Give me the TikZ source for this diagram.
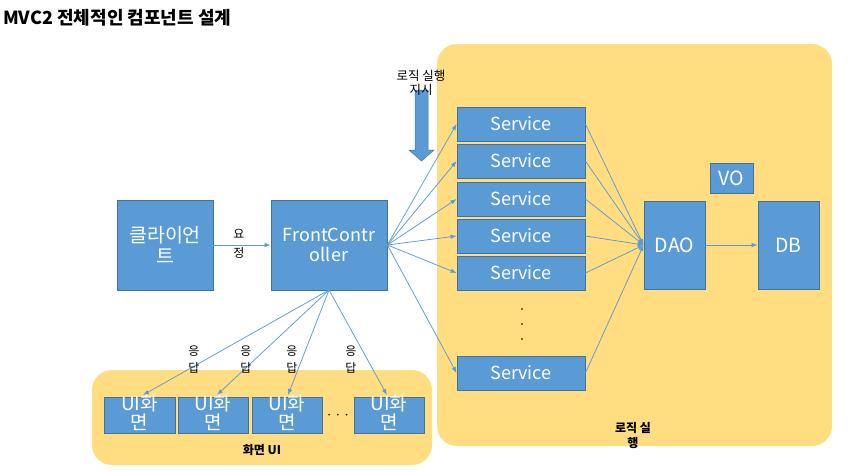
\documentclass[tikz,border=0pt]{standalone}
\usepackage{fontspec}
\setmainfont{Noto Sans CJK KR}
\usetikzlibrary{arrows.meta}
\definecolor{boxblue}{HTML}{5B9BD5}
\definecolor{boxedge}{HTML}{41719C}
\definecolor{panel}{HTML}{FFDD80}
\begin{document}
\begin{tikzpicture}[x=1pt,y=-1pt,
  box/.style={draw=boxedge, fill=boxblue, line width=0.8pt, inner sep=0pt},
  boxtext/.style={text=white, font=\fontsize{18}{20}\selectfont, align=center, inner sep=0pt},
  bigtext/.style={boxtext, font=\fontsize{19.5}{21}\selectfont},
  link/.style={draw=boxblue, line width=0.75pt, -{Latex[length=6pt,width=4.5pt]}},
  lbl/.style={font=\fontsize{12}{17}\selectfont, align=center, inner sep=0pt},
  blbl/.style={font=\fontsize{12}{15}\selectfont\bfseries, align=center, inner sep=0pt},
  panelbox/.style={fill=panel, rounded corners=20pt}]
\useasboundingbox (0,0) rectangle (853,471);
% panels
\fill[panelbox] (437,44) rectangle (832,446);
\fill[panelbox] (92,370) rectangle (432,465);
% title
\node[anchor=west, font=\fontsize{18}{20}\selectfont\bfseries, inner sep=0pt] (title) at (3,18) {MVC2 전체적인 컴포넌트 설계};
% client and front controller
\node[box, minimum width=96pt, minimum height=90pt] (client) at (165,245) {};
\node[bigtext] (clientt) at (client.center) {클라이언\\트};
\node[box, minimum width=116pt, minimum height=90pt] (fc) at (329,245) {};
\node[boxtext] (fct) at (fc.center) {FrontContr\\oller};
% services
\foreach \i/\y in {1/124,2/161,3/199,4/236,5/273,6/373}{
  \node[box, minimum width=128pt, minimum height=34pt] (s\i) at (521,\y) {};
  \node[boxtext] (s\i t) at (s\i.center) {Service};
}
% DAO, DB, VO
\node[box, minimum width=61pt, minimum height=88pt] (dao) at (674.5,245) {};
\node[bigtext] (daot) at (dao.center) {DAO};
\node[box, minimum width=61pt, minimum height=88pt] (db) at (788.5,245) {};
\node[bigtext] (dbt) at (db.center) {DB};
\node[box, minimum width=43pt, minimum height=30pt] (vo) at (731.5,178) {};
\node[bigtext] (vot) at (vo.center) {VO};
% UI screens
\foreach \i/\x/\w in {1/139.5/71,2/213/70,3/287/70,4/389/70}{
  \node[box, minimum width=\w pt, minimum height=36pt] (u\i) at (\x,415) {};
  \node[boxtext, font=\fontsize{19}{19}\selectfont] (u\i t) at (\x,413) {UI화\\면};
}
% connectors
\draw[link] (client.east) -- (fc.west);
\node[lbl, font=\fontsize{12}{19}\selectfont] (req) at (239,244) {요\\정};
\foreach \i in {1,...,6}{
  \draw[link] (fc.east) -- (s\i.west);
  \draw[link] (s\i.east) -- (dao.west);
}
\draw[link] (dao.east) -- (db.west);
\coordinate (fcb) at (329,290);
\draw[link] (fcb) -- (143,395);
\draw[link] (fcb) -- (217,395);
\draw[link] (fcb) -- (288,395);
\draw[link] (fcb) -- (387,395);
\foreach \i/\x in {1/194,2/246,3/292,4/351}{
  \node[lbl] (r\i) at (\x,360) {응\\답};
}
% dots
\foreach \y in {309,324,339}{\fill (522,\y) circle (0.9pt);}
\node[font=\fontsize{12}{12}\selectfont, inner sep=0pt] (udots) at (338,417) {·\,·\,·};
% block arrow
\fill[boxblue, draw=boxedge, line width=0.5pt] (415,90) -- (428,90) -- (428,150) -- (434,150) -- (421.5,161) -- (409,150) -- (415,150) -- cycle;
\node[lbl, font=\fontsize{12.5}{14}\selectfont] (order) at (421,83) {로직 실행\\지시};
% panel labels
\node[blbl] (uilbl) at (262,450) {화면 UI};
\node[blbl] (logiclbl) at (633,436) {로직 실\\행};
\end{tikzpicture}
\end{document}
